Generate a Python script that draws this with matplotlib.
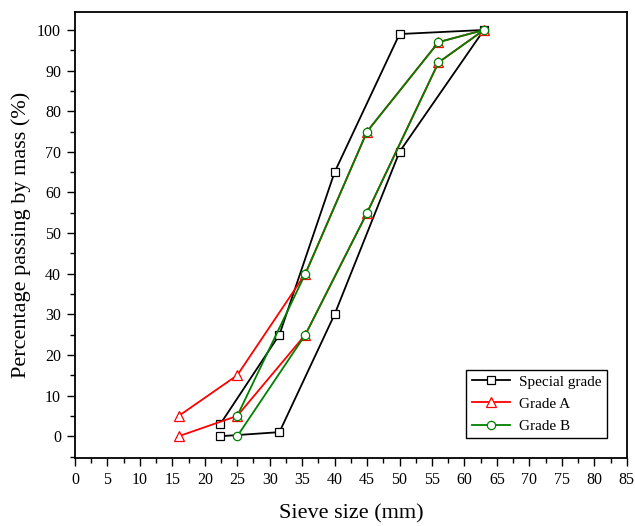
import matplotlib
matplotlib.use("Agg")
import matplotlib.pyplot as plt
from matplotlib.ticker import MultipleLocator

plt.rcParams['font.family'] = ['Liberation Serif', 'DejaVu Serif']
plt.rcParams['mathtext.fontset'] = 'stix'

# grading envelopes, sieve size (mm) vs passing (%)
special_x = [22.4, 31.5, 40, 50, 63, 50, 40, 31.5, 22.4]
special_y = [0, 1, 30, 70, 100, 99, 65, 25, 3]

grade_a_x = [16, 25, 35.5, 45, 56, 63, 56, 45, 35.5, 25, 16]
grade_a_y = [0, 5, 25, 55, 92, 100, 97, 75, 40, 15, 5]

grade_b_x = [25, 35.5, 45, 56, 63, 56, 45, 35.5, 25]
grade_b_y = [0, 25, 55, 92, 100, 97, 75, 40, 5]

fig = plt.figure(figsize=(6.35, 5.26), dpi=100)
ax = fig.add_axes([0.118, 0.129, 0.869, 0.848])

ax.plot(special_x, special_y, color='black', lw=1.3, marker='s', ms=5.5,
        mfc='white', mec='black', mew=0.9, label='Special grade')
ax.plot(grade_a_x, grade_a_y, color='red', lw=1.3, marker='^', ms=6.5,
        mfc='white', mec='red', mew=0.9, label='Grade A')
ax.plot(grade_b_x, grade_b_y, color='green', lw=1.3, marker='o', ms=6,
        mfc='white', mec='green', mew=0.9, label='Grade B')

ax.set_xlim(0, 85)
ax.set_ylim(-5.4, 104.4)
ax.xaxis.set_major_locator(MultipleLocator(5))
ax.xaxis.set_minor_locator(MultipleLocator(2.5))
ax.yaxis.set_major_locator(MultipleLocator(10))
ax.yaxis.set_minor_locator(MultipleLocator(5))
ax.set_yticks(range(0, 101, 10))

for s in ax.spines.values():
    s.set_linewidth(1.3)
ax.tick_params(which='major', direction='out', length=6, width=1, labelsize=11.5,
               pad=4, top=False, right=False)
ax.tick_params(which='minor', direction='out', length=3.5, width=1,
               top=False, right=False)

ax.set_xlabel('Sieve size (mm)', fontsize=16, labelpad=12)
ax.set_ylabel('Percentage passing by mass (%)', fontsize=16, labelpad=4)

leg = ax.legend(loc='lower right', fontsize=11, handlelength=2.5,
                handletextpad=0.6, borderaxespad=1.3, borderpad=0.35,
                fancybox=False, framealpha=1, edgecolor='black',
                labelspacing=0.55)
leg.get_frame().set_linewidth(1.0)

fig.savefig('out.png', dpi=100)
